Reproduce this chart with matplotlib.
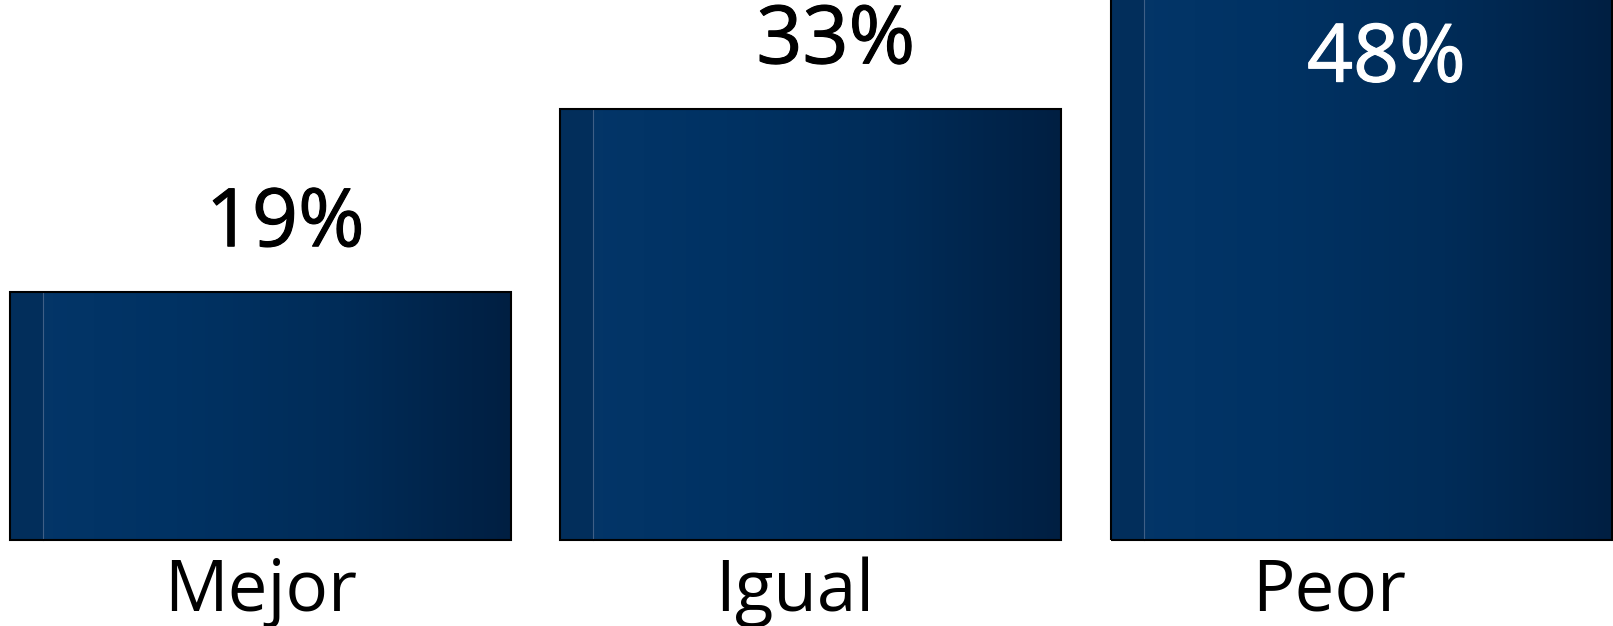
import numpy as np
import matplotlib.pyplot as plt
import matplotlib.patheffects as pe
from matplotlib.colors import LinearSegmentedColormap
from matplotlib.patches import Rectangle

categorias = ['Mejor', 'Igual', 'Peor']
valores = [19, 33, 48]
etiquetas = ['19%', '33%', '48%']

fig = plt.figure(figsize=(16.13, 6.26), dpi=100)
ax = fig.add_axes([0, 0, 1, 1])
ax.axis('off')

# degradado horizontal de las barras
cmap = LinearSegmentedColormap.from_list('azul', ['#043669', '#003263', '#012c58', '#001f42'])
grad = np.linspace(0, 1, 256).reshape(1, -1)

ancho = 0.91
x = np.arange(len(categorias))
barras = ax.bar(x, valores, width=ancho, color='none', edgecolor='none')

ax.set_xlim(-0.473, 2.457)
ax.set_ylim(-6.585, 41.35)
top = ax.get_ylim()[1]

for i, b in enumerate(barras):
    x0 = b.get_x()
    h = b.get_height()
    im = ax.imshow(grad, cmap=cmap, aspect='auto', extent=[x0, x0 + ancho, 0, h], zorder=2)
    im.set_clip_path(b)
    # franja izquierda
    ax.add_patch(Rectangle((x0, 0), 0.06, h, facecolor='#022e5b', edgecolor='none', zorder=3))
    ax.plot([x0 + 0.06, x0 + 0.06], [0, h], color='#3f5f86', lw=0.8, zorder=3)
    ax.add_patch(Rectangle((x0, 0), ancho, h, facecolor='none', edgecolor='black', lw=1.5, zorder=4))

    y = valores[i] + 3.5
    col = 'black'
    if y + 4.4 > top:
        y = top - 6.25
        col = 'white'
    ax.text(x[i] + 0.045, y, etiquetas[i], ha='center', va='baseline',
            fontsize=58, family='Open Sans', color=col, zorder=5,
            path_effects=[pe.withStroke(linewidth=0.8, foreground=col)])
    ax.text(x[i] * 0.971, -5.4, categorias[i], ha='center', va='baseline',
            fontsize=51, family='Open Sans', color='black', zorder=5)

ax.set_xlim(-0.473, 2.457)
ax.set_ylim(-6.585, 41.35)
plt.savefig('out.png', dpi=100)
